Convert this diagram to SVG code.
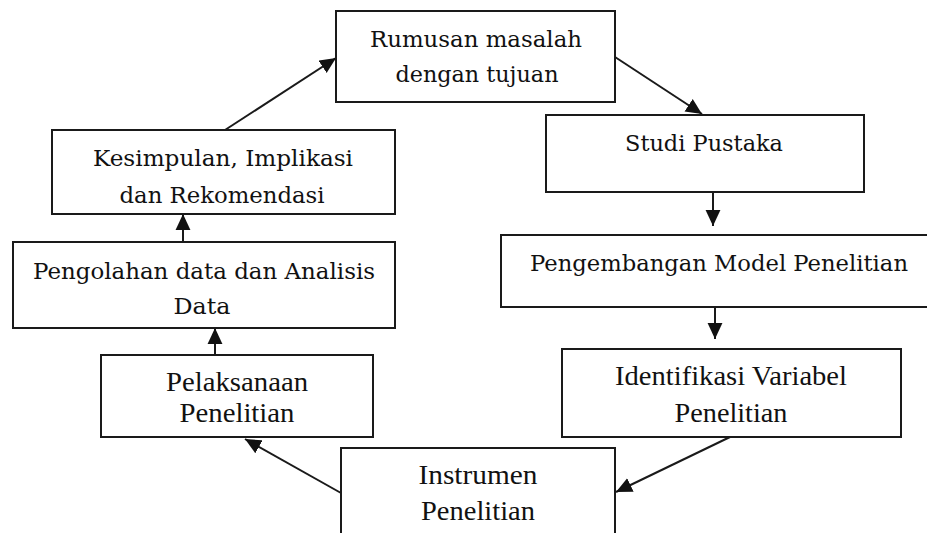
<svg xmlns="http://www.w3.org/2000/svg" width="927" height="533" viewBox="0 0 927 533">
<style>
.box{fill:#fff;stroke:#1a1a1a;stroke-width:2}
.t{font-family:"DejaVu Serif","Liberation Serif",serif;font-size:23px;fill:#111;text-anchor:middle}
.c{font-family:"Liberation Serif",serif;font-size:28px;fill:#111;text-anchor:middle}
.ln{stroke:#1a1a1a;stroke-width:2;fill:none;marker-end:url(#ah)}
</style>
<defs>
<marker id="ah" markerUnits="userSpaceOnUse" markerWidth="16" markerHeight="16" viewBox="0 0 14 14" refX="14" refY="7" orient="auto">
<path d="M0,0.5 L14,7 L0,13.5 z" fill="#111"/>
</marker>
</defs>
<rect width="927" height="533" fill="#fff"/>
<g id="connectors">
<line class="ln" x1="225" y1="130" x2="336" y2="58"/>
<line class="ln" x1="615" y1="57" x2="702" y2="114"/>
<line class="ln" x1="713" y1="192" x2="713" y2="226"/>
<line class="ln" x1="715" y1="307" x2="715" y2="339"/>
<line class="ln" x1="730" y1="437" x2="616" y2="492"/>
<line class="ln" x1="341" y1="493" x2="245" y2="439"/>
<line class="ln" x1="215" y1="355" x2="215" y2="328"/>
<line class="ln" x1="183" y1="242" x2="183" y2="214"/>
</g>
<g id="rumusan">
<rect class="box" x="336" y="11" width="279" height="91"/>
<text class="t" x="476" y="47" textLength="212" lengthAdjust="spacingAndGlyphs">Rumusan masalah</text>
<text class="t" x="477" y="82" textLength="163" lengthAdjust="spacingAndGlyphs">dengan tujuan</text>
</g>
<g id="studi">
<rect class="box" x="546" y="115" width="318" height="77"/>
<text class="t" x="704" y="151" textLength="158" lengthAdjust="spacingAndGlyphs">Studi Pustaka</text>
</g>
<g id="pengembangan">
<rect class="box" x="501" y="235" width="432" height="72"/>
<text class="t" x="719" y="271" textLength="378" lengthAdjust="spacingAndGlyphs">Pengembangan Model Penelitian</text>
</g>
<g id="identifikasi">
<rect class="box" x="562" y="349" width="339" height="88"/>
<text class="c" x="731" y="385" textLength="232" lengthAdjust="spacingAndGlyphs">Identifikasi Variabel</text>
<text class="c" x="731" y="422" textLength="113" lengthAdjust="spacingAndGlyphs">Penelitian</text>
</g>
<g id="instrumen">
<rect class="box" x="341" y="448" width="274" height="100"/>
<text class="c" x="478" y="484" textLength="119" lengthAdjust="spacingAndGlyphs">Instrumen</text>
<text class="c" x="478" y="520" textLength="114" lengthAdjust="spacingAndGlyphs">Penelitian</text>
</g>
<g id="pelaksanaan">
<rect class="box" x="101" y="355" width="272" height="82"/>
<text class="c" x="237" y="391" textLength="142" lengthAdjust="spacingAndGlyphs">Pelaksanaan</text>
<text class="c" x="237" y="422" textLength="115" lengthAdjust="spacingAndGlyphs">Penelitian</text>
</g>
<g id="pengolahan">
<rect class="box" x="13" y="242" width="382" height="86"/>
<text class="t" x="204" y="279" textLength="342" lengthAdjust="spacingAndGlyphs">Pengolahan data dan Analisis</text>
<text class="t" x="202" y="314" textLength="57" lengthAdjust="spacingAndGlyphs">Data</text>
</g>
<g id="kesimpulan">
<rect class="box" x="52" y="130" width="343" height="84"/>
<text class="t" x="223" y="166" textLength="260" lengthAdjust="spacingAndGlyphs">Kesimpulan, Implikasi</text>
<text class="t" x="222" y="203" textLength="205" lengthAdjust="spacingAndGlyphs">dan Rekomendasi</text>
</g>
</svg>
